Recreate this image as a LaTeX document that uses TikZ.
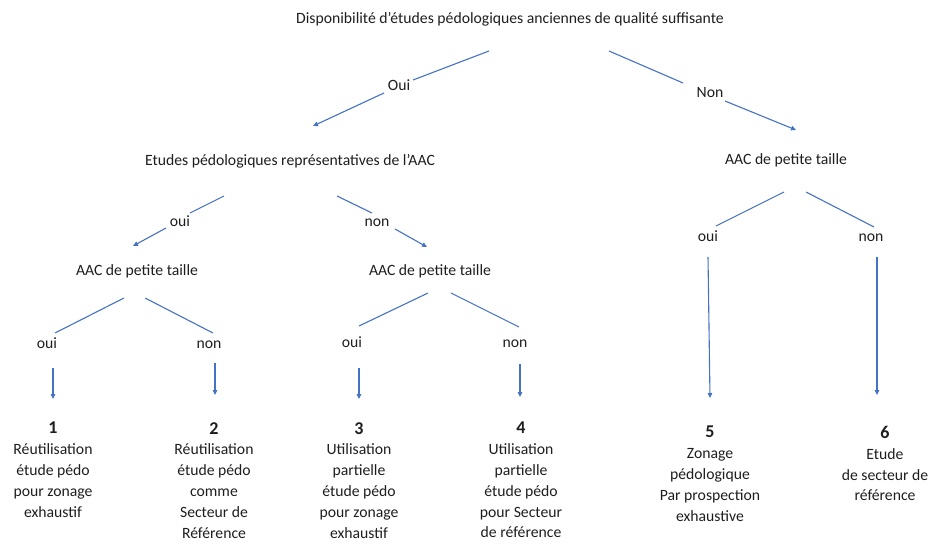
\documentclass[tikz,border=0pt]{standalone}
\usepackage{fontspec}
\setmainfont{Carlito}
\usetikzlibrary{arrows.meta}
\definecolor{lineblue}{HTML}{4472C4}
\definecolor{txt}{HTML}{1E1E1E}
\begin{document}
\begin{tikzpicture}[x=1pt,y=-1pt,
  every node/.style={font=\fontsize{15.7}{20.8}\selectfont, text=txt, inner sep=0pt},
  head/.style={anchor=base},
  lab/.style={anchor=base},
  outcome/.style={anchor=north, align=center},
  link/.style={draw=lineblue, line width=1.1pt},
  arr/.style={link, -{Triangle[length=5pt,width=4.5pt]}},
]
\useasboundingbox (0,0) rectangle (933,545);

% headings
\node[head] (top)    at (510,24)  {Disponibilité d’études pédologiques anciennes de qualité suffisante};
\node[head] (etudes) at (290,166) {Etudes pédologiques représentatives de l’AAC};
\node[head] (aacL)   at (137,275) {AAC de petite taille};
\node[head] (aacM)   at (430,275) {AAC de petite taille};
\node[head] (aacR)   at (786,165) {AAC de petite taille};

% branch labels
\node[lab] (lOui)  at (399,91)  {Oui};
\node[lab] (lNon)  at (710,98)  {Non};
\node[lab] (eOui)  at (180,226) {oui};
\node[lab] (eNon)  at (377,226) {non};
\node[lab] (lLoui) at (47,348)  {oui};
\node[lab] (lLnon) at (209,348) {non};
\node[lab] (lMoui) at (352,347) {oui};
\node[lab] (lMnon) at (515,347) {non};
\node[lab] (lRoui) at (708,241) {oui};
\node[lab] (lRnon) at (871,241) {non};

% outcomes
\node[outcome] (o1) at (53,422)  {{\fontsize{18}{20.8}\selectfont\bfseries 1}\\Réutilisation\\étude pédo\\pour zonage\\exhaustif};
\node[outcome] (o2) at (214,422) {{\fontsize{18}{20.8}\selectfont\bfseries 2}\\Réutilisation\\étude pédo\\comme\\Secteur de\\Référence};
\node[outcome] (o3) at (359,422) {{\fontsize{18}{20.8}\selectfont\bfseries 3}\\Utilisation\\partielle\\étude pédo\\pour zonage\\exhaustif};
\node[outcome] (o4) at (521,422) {{\fontsize{18}{20.8}\selectfont\bfseries 4}\\Utilisation\\partielle\\étude pédo\\pour Secteur\\de référence};
\node[outcome] (o5) at (710,426) {{\fontsize{18}{20.8}\selectfont\bfseries 5}\\Zonage\\pédologique\\Par prospection\\exhaustive};
\node[outcome] (o6) at (885,426) {{\fontsize{18}{20.8}\selectfont\bfseries 6}\\Etude\\de secteur de\\référence};

% connector end points
\coordinate (ta1) at (489,51);  \coordinate (ta2) at (413,80);
\coordinate (ta3) at (384,93);  \coordinate (ta4) at (313,126);
\coordinate (tb1) at (609,51);  \coordinate (tb2) at (683,83);
\coordinate (tb3) at (725,101); \coordinate (tb4) at (796,130);

\coordinate (ea1) at (224,196); \coordinate (ea2) at (190,213);
\coordinate (ea3) at (166,228); \coordinate (ea4) at (133,246);
\coordinate (eb1) at (337,196); \coordinate (eb2) at (372,213);
\coordinate (eb3) at (395,229); \coordinate (eb4) at (427,247);

\coordinate (la1) at (124,298); \coordinate (la2) at (55,333);
\coordinate (lb1) at (145,298); \coordinate (lb2) at (213,333);
\coordinate (lv1) at (53,368);  \coordinate (lv2) at (53,399);
\coordinate (lw1) at (215,363); \coordinate (lw2) at (215,395);

\coordinate (ma1) at (428,293); \coordinate (ma2) at (359,326);
\coordinate (mb1) at (451,293); \coordinate (mb2) at (519,327);
\coordinate (mv1) at (359,368); \coordinate (mv2) at (359,399);
\coordinate (mw1) at (520,364); \coordinate (mw2) at (520,397);

\coordinate (ra1) at (784,192); \coordinate (ra2) at (716,226);
\coordinate (rb1) at (806,192); \coordinate (rb2) at (874,227);
\coordinate (rv1) at (708,257); \coordinate (rv2) at (710,398);
\coordinate (rw1) at (877,257); \coordinate (rw2) at (877,395);

% connectors
\draw[link] (ta1) -- (ta2);  \draw[arr] (ta3) -- (ta4);
\draw[link] (tb1) -- (tb2);  \draw[arr] (tb3) -- (tb4);
\draw[link] (ea1) -- (ea2);  \draw[arr] (ea3) -- (ea4);
\draw[link] (eb1) -- (eb2);  \draw[arr] (eb3) -- (eb4);
\draw[link] (la1) -- (la2);  \draw[link] (lb1) -- (lb2);
\draw[arr] (lv1) -- (lv2);   \draw[arr] (lw1) -- (lw2);
\draw[link] (ma1) -- (ma2);  \draw[link] (mb1) -- (mb2);
\draw[arr] (mv1) -- (mv2);   \draw[arr] (mw1) -- (mw2);
\draw[link] (ra1) -- (ra2);  \draw[link] (rb1) -- (rb2);
\draw[arr] (rv1) -- (rv2);   \draw[arr] (rw1) -- (rw2);
\end{tikzpicture}
\end{document}
